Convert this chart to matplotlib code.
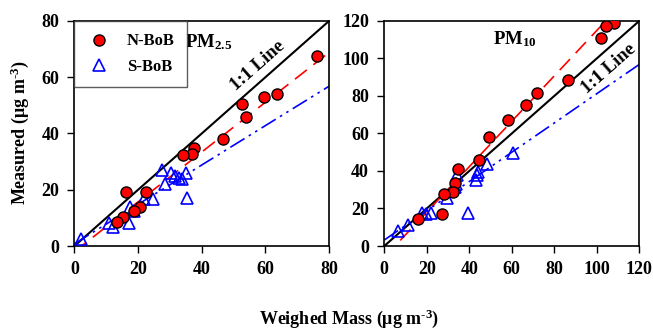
import numpy as np
import matplotlib
matplotlib.use("Agg")
import matplotlib.pyplot as plt

plt.rcParams['font.family'] = ['Liberation Serif', 'DejaVu Serif']
plt.rcParams['font.weight'] = 'bold'
plt.rcParams['mathtext.fontset'] = 'custom'
plt.rcParams['mathtext.rm'] = 'Liberation Serif:bold'
plt.rcParams['mathtext.it'] = 'Liberation Serif:bold'
plt.rcParams['mathtext.bf'] = 'Liberation Serif:bold'

# PM2.5 data (weighed mass, measured)
pm25_n_x = [76.2, 63.6, 59.7, 52.6, 53.9, 46.7, 37.4, 36.9, 34.0, 16.3, 22.5, 20.7, 18.8, 15.4, 13.5]
pm25_n_y = [67.7, 54.1, 52.9, 50.5, 45.8, 38.2, 35.0, 32.7, 32.3, 19.2, 19.2, 13.8, 12.6, 10.2, 8.6]
pm25_s_x = [2.0, 10.7, 12.1, 17.2, 17.5, 18.8, 21.7, 24.6, 27.5, 28.3, 30.4, 31.7, 32.7, 33.8, 35.1, 35.5]
pm25_s_y = [2.4, 8.1, 6.9, 8.1, 13.8, 12.6, 16.6, 16.8, 27.0, 22.1, 26.1, 25.0, 24.1, 23.7, 25.9, 17.2]

# PM10 data
pm10_n_x = [108.1, 104.2, 101.9, 86.3, 71.7, 66.5, 58.2, 49.3, 44.7, 34.8, 33.4, 32.5, 28.2, 16.0, 27.0]
pm10_n_y = [118.8, 117.5, 110.7, 88.5, 81.4, 75.2, 67.2, 58.0, 45.9, 40.9, 33.4, 29.0, 27.6, 14.4, 16.9]
pm10_s_x = [6.6, 11.0, 17.6, 19.6, 21.8, 29.6, 33.2, 34.4, 33.6, 39.2, 43.5, 43.2, 44.2, 48.5, 60.7]
pm10_s_y = [8.2, 11.2, 17.8, 17.1, 17.4, 25.4, 31.6, 37.9, 33.0, 17.4, 37.9, 35.2, 39.6, 43.7, 49.8]

# regression fits (slope, intercept)
pm25_n_fit = (0.885, -2.0)
pm25_s_fit = (0.70, 0.8)
pm10_n_fit = (1.21, -6.1)
pm10_s_fit = (0.78, 3.2)

fig = plt.figure(figsize=(6.53, 3.32), dpi=100)
ax1 = fig.add_axes([0.114, 0.259, 0.390, 0.678])
ax2 = fig.add_axes([0.5885, 0.259, 0.3905, 0.678])

panels = [
    (ax1, 80, pm25_n_x, pm25_n_y, pm25_s_x, pm25_s_y, pm25_n_fit, pm25_s_fit,
     r'PM$_{2.5}$', (42.0, 72.5), (57.5, 64.0)),
    (ax2, 120, pm10_n_x, pm10_n_y, pm10_s_x, pm10_s_y, pm10_n_fit, pm10_s_fit,
     r'PM$_{10}$', (61.4, 110.5), (105.5, 94.5)),
]

for ax, lim, nx, ny, sx, sy, nfit, sfit, title, tpos, lpos in panels:
    xx = np.linspace(0, lim, 50)
    ax.plot(xx, xx, color='black', lw=1.5, zorder=2)
    ax.plot(xx, nfit[0] * xx + nfit[1], color='red', lw=1.2, dashes=(9, 5), zorder=2)
    ax.plot(xx, sfit[0] * xx + sfit[1], color='blue', lw=1.2,
            dashes=(10, 3, 1.5, 3, 1.5, 3), zorder=2)
    ax.plot(nx, ny, 'o', ms=8, mfc='red', mec='black', mew=1.0, ls='none',
            label='N-BoB', zorder=4)
    ax.plot(sx, sy, '^', ms=9, mfc='none', mec='blue', mew=1.2, ls='none',
            label='S-BoB', zorder=3)
    ax.set_xlim(0, lim)
    ax.set_ylim(0, lim)
    ax.set_xticks(np.arange(0, lim + 1, 20))
    ax.set_yticks(np.arange(0, lim + 1, 20))
    ax.tick_params(direction='out', length=5, width=1, labelsize=13, pad=6,
                   top=False, right=False)
    for lab in ax.get_xticklabels() + ax.get_yticklabels():
        lab.set_fontweight('bold')
    for sp in ax.spines.values():
        sp.set_linewidth(1.2)
    ax.text(tpos[0], tpos[1], title, fontsize=13.5, fontweight='bold', ha='center', va='center')
    # rotation from data aspect in display
    p0 = ax.transData.transform((0, 0))
    p1 = ax.transData.transform((lim, lim))
    ang = np.degrees(np.arctan2(p1[1] - p0[1], p1[0] - p0[0]))
    ax.text(lpos[0], lpos[1], '1:1 Line', fontsize=13.5, fontweight='bold',
            rotation=ang, ha='center', va='center', rotation_mode='anchor')

leg = ax1.legend(loc='upper left', fontsize=12, frameon=True, fancybox=False,
                 edgecolor='#333333', borderpad=0.75, handletextpad=0.9,
                 labelspacing=0.55, borderaxespad=0, handlelength=1.5)
leg.get_frame().set_linewidth(1.0)
for t in leg.get_texts():
    t.set_fontweight('bold')

fig.text(0.03, 0.60, r'Measured ($\mu$g m$^{\text{-3}}$)', rotation=90, fontsize=13,
         fontweight='bold', ha='center', va='center')
fig.text(0.535, 0.04, r'Weighed Mass ($\mu$g m$^{\text{-3}}$)', fontsize=13,
         fontweight='bold', ha='center', va='center')

fig.savefig('out.png', dpi=100)
